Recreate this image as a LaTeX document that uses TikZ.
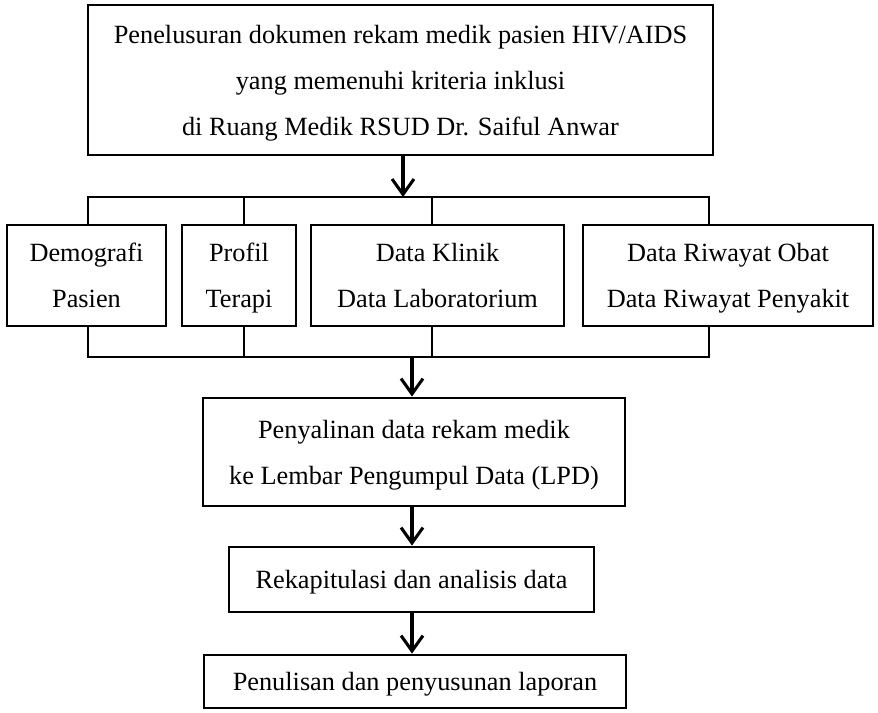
\documentclass[tikz,border=0pt]{standalone}
\usepackage{fontspec}
\setmainfont{Liberation Serif}
\usetikzlibrary{arrows.meta}
\newcommand{\pxu}{0.4563pt}
\begin{document}
\begin{tikzpicture}[x=0.4563pt,y=-0.4563pt,
    box/.style={draw,line width=1.3pt,inner sep=0pt,align=center,
      font=\fontsize{12}{21}\selectfont},
    bracket/.style={line width=0.8pt},
    flow/.style={line width=1.4pt,-{Straight Barb[length=7pt,width=10pt,line width=1.4pt]}}]
    \useasboundingbox (0,0) rectangle (878,712);
    % boxes
    \node[box,minimum width=625*\pxu,minimum height=150*\pxu] (telusur) at (400.5,80)
      {\strut Penelusuran dokumen rekam medik pasien HIV/AIDS\\\strut yang memenuhi kriteria inklusi\\\strut di Ruang Medik RSUD Dr. Saiful Anwar};
    \node[box,minimum width=159*\pxu,minimum height=101*\pxu] (demo) at (86.5,275.5) {\strut Demografi\\\strut Pasien};
    \node[box,minimum width=114*\pxu,minimum height=101*\pxu] (terapi) at (239,275.5) {\strut Profil\\\strut Terapi};
    \node[box,minimum width=253*\pxu,minimum height=101*\pxu] (klinik) at (437.5,275.5) {\strut Data Klinik\\\strut Data Laboratorium};
    \node[box,minimum width=290*\pxu,minimum height=101*\pxu] (riwayat) at (728,275.5) {\strut Data Riwayat Obat\\\strut Data Riwayat Penyakit};
    \node[box,minimum width=422*\pxu,minimum height=108*\pxu] (salin) at (414,452)
      {\strut Penyalinan data rekam medik\\\strut ke Lembar Pengumpul Data (LPD)};
    \node[box,minimum width=365*\pxu,minimum height=65*\pxu] (rekap) at (411.5,579.5) {\strut Rekapitulasi dan analisis data};
    \node[box,minimum width=422*\pxu,minimum height=53*\pxu] (tulis) at (415,681.5) {\strut Penulisan dan penyusunan laporan};
    % bracket above the row
    \coordinate (up) at (403,197);
    \coordinate (ua) at (88,197);
    \coordinate (ub) at (244,197);
    \coordinate (uc) at (432,197);
    \coordinate (ud) at (709,197);
    \draw[bracket] (ua |- demo.north) -- (ua) -- (ud) -- (ud |- riwayat.north);
    \draw[bracket] (ub) -- (ub |- terapi.north);
    \draw[bracket] (uc) -- (uc |- klinik.north);
    % bracket below the row
    \coordinate (lo) at (412,357);
    \coordinate (la) at (88,357);
    \coordinate (lb) at (244,357);
    \coordinate (lc) at (432,357);
    \coordinate (ld) at (709,357);
    \draw[bracket] (la |- demo.south) -- (la) -- (ld) -- (ld |- riwayat.south);
    \draw[bracket] (lb) -- (lb |- terapi.south);
    \draw[bracket] (lc) -- (lc |- klinik.south);
    % arrows
    \draw[flow] (up |- telusur.south) -- (up);
    \draw[flow] (lo) -- (lo |- salin.north);
    \draw[flow] (lo |- salin.south) -- (lo |- rekap.north);
    \draw[flow] (lo |- rekap.south) -- (lo |- tulis.north);
\end{tikzpicture}
\end{document}
